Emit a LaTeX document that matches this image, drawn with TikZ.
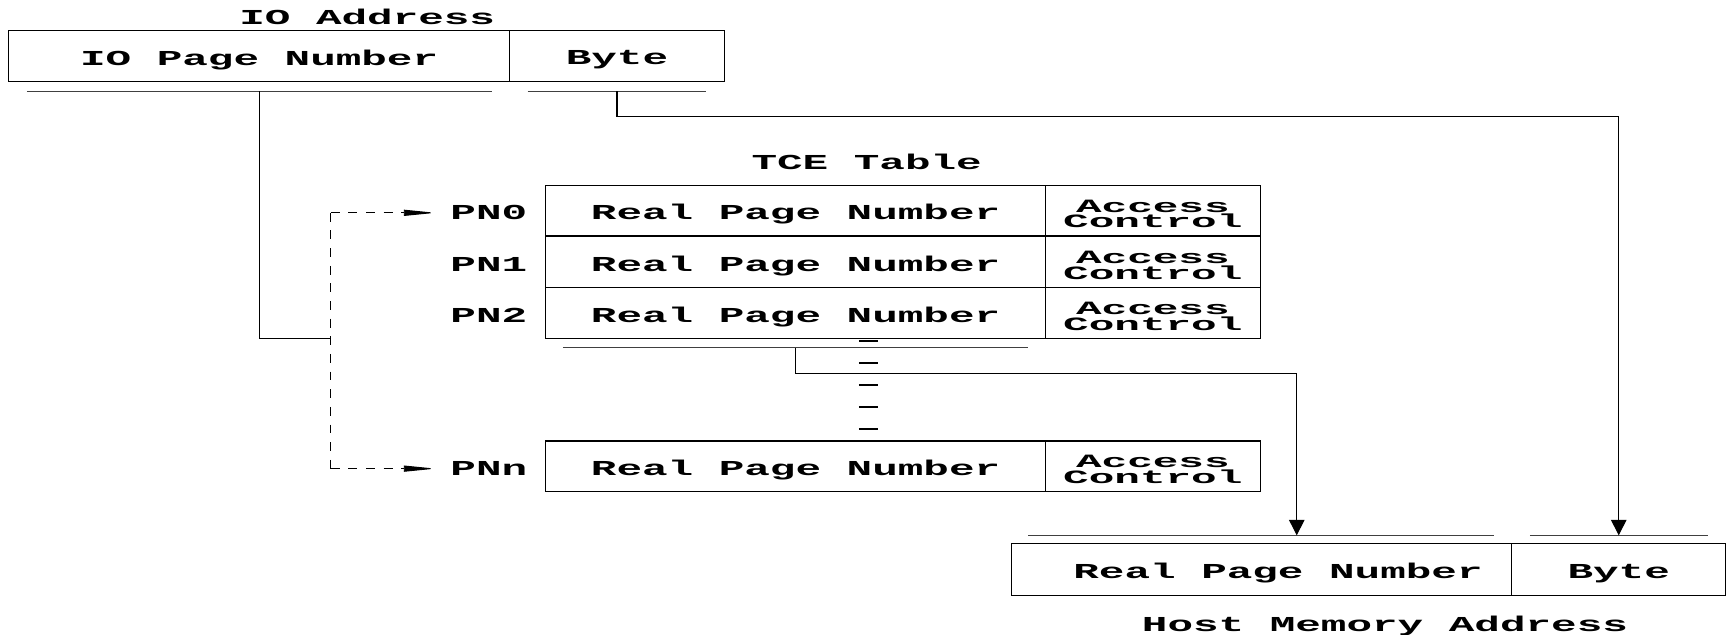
\documentclass[tikz,border=0pt]{standalone}
\usepackage{fontspec}
\newfontfamily\fieldfamily[FakeStretch=2.0]{Liberation Mono}
\newfontfamily\acfamily[FakeStretch=2.27]{Liberation Mono}
\newcommand{\diagfont}{\fieldfamily\bfseries\fontsize{11}{13}\selectfont}
\newcommand{\acfont}{\acfamily\bfseries\fontsize{9.7}{8.2}\selectfont}
\usetikzlibrary{arrows.meta,calc,fit}

\tikzset{
  field/.style={draw,line width=0.6pt,inner sep=0pt,
    label={[font=\diagfont,text depth=0pt,yshift=-0.3mm]center:#1}},
  acfield/.style={draw,line width=0.6pt,inner sep=0pt,
    label={[font=\acfont,align=center,yshift=-0.6mm]center:#1}},
  title/.style={font=\diagfont,text depth=0pt},
  bar/.style={line width=0.5pt,black!75},
  link/.style={line width=0.6pt},
  ptr/.style={line width=0.5pt,dash pattern=on 1.6mm off 1.6mm},
  downtip/.tip={Triangle[length=2.8mm,width=2.8mm]},
  ptrtip/.tip={Triangle[length=5.8mm,width=1.1mm]}
}

\begin{document}
\begin{tikzpicture}[x=0.2mm,y=-0.2mm]
  \useasboundingbox (0,0) rectangle (1568,575);

  % IO address fields
  \node[title] (ioaddr) at (333,15) {IO Address};
  \node[field={IO Page Number},fit={(8,28) (462,74)}] (iopn) {};
  \node[field={Byte},fit={(462,28) (657,74)}] (iobyte) {};

  % TCE table rows
  \node[title] (tce) at (786,147) {TCE Table};
  \foreach \i/\top/\bot in {0/168/214, 1/214/261, 2/261/307, n/400/446} {
    \node[field={Real Page Number},fit={(495,\top) (948,\bot)}] (rpn\i) {};
    \node[acfield={Access\\Control},fit={(948,\top) (1143,\bot)}] (ac\i) {};
    \node[title,anchor=east,inner sep=0pt] (pn\i) at ($(rpn\i.west)+(-16,2)$) {PN\i};
  }

  % rows left out of the table
  \foreach \y in {309,329,349,369,389}
    \draw[line width=1.1pt] (779,\y) -- (796,\y);

  % host memory address fields
  \node[field={\hspace*{6mm}Real Page Number},fit={(917,493) (1371,540)}] (hrpn) {};
  \node[field={Byte},fit={(1371,493) (1565,540)}] (hbyte) {};
  \node[title] (host) at (1256,566) {Host Memory Address};

  % brackets under and over the fields
  \draw[bar] ($(iopn.south west)+(17,8)$) -- ($(iopn.south east)+(-16,8)$);
  \draw[bar] ($(iobyte.south west)+(17,8)$) -- ($(iobyte.south east)+(-17,8)$);
  \draw[bar] ($(rpn2.south west)+(16,8)$) -- ($(rpn2.south east)+(-16,8)$);
  \draw[bar] ($(hrpn.north west)+(16,-7)$) -- ($(hrpn.north east)+(-17,-7)$);
  \draw[bar] ($(hbyte.north west)+(17,-7)$) -- ($(hbyte.north east)+(-17,-7)$);

  \coordinate (pnbar) at ($(iopn.south)+(0,8)$);
  \coordinate (bytebar) at ($(iobyte.south)+(0,8)$);
  \coordinate (rpnbar) at ($(rpn2.south)+(0,8)$);
  \coordinate (hrpnbar) at ($(hrpn.north)+(32,-7)$);
  \coordinate (hbytebar) at ($(hbyte.north)+(0,-7)$);
  \coordinate (fork) at (300,307);

  % page number indexes the table
  \draw[link] (pnbar) -- (pnbar |- fork) -- (fork);
  \draw[ptr] (fork |- pn0) -- (fork |- pnn);
  \draw[ptr,-ptrtip,shorten >=2.6mm] (fork |- pn0) -- (pn0.west);
  \draw[ptr,-ptrtip,shorten >=2.6mm] (fork |- pnn) -- (pnn.west);

  % byte offset and real page go to the host address
  \draw[link,-downtip] (bytebar) -- ++(0,23) -| (hbytebar);
  \draw[link,-downtip] (rpnbar) -- ++(0,23) -| (hrpnbar);
\end{tikzpicture}
\end{document}
